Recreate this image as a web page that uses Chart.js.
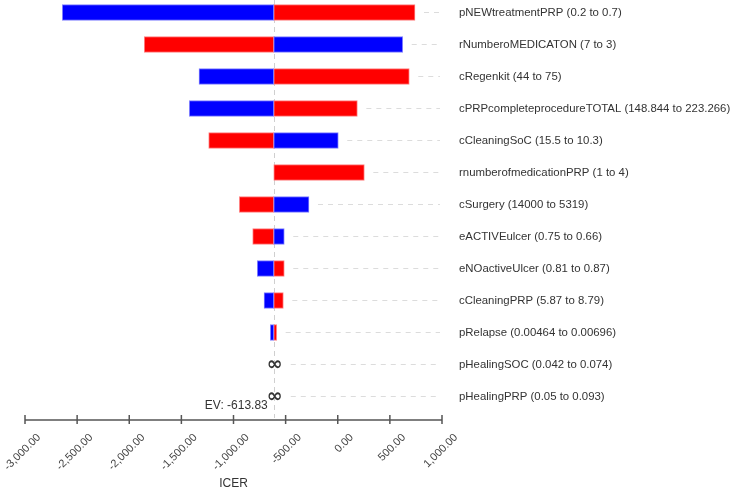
<!DOCTYPE html>
<html><head><meta charset="utf-8">
<script src="https://cdn.jsdelivr.net/npm/chart.js@4/dist/chart.umd.min.js"></script>
<style>html,body{margin:0;padding:0;background:#fff;}</style>
</head><body>
<canvas id="c" width="734" height="490"></canvas>
<script>
const categories = [
  "pNEWtreatmentPRP (0.2 to 0.7)",
  "rNumberoMEDICATON (7 to 3)",
  "cRegenkit (44 to 75)",
  "cPRPcompleteprocedureTOTAL (148.844 to 223.266)",
  "cCleaningSoC (15.5 to 10.3)",
  "rnumberofmedicationPRP (1 to 4)",
  "cSurgery (14000 to 5319)",
  "eACTIVEulcer (0.75 to 0.66)",
  "eNOactiveUlcer (0.81 to 0.87)",
  "cCleaningPRP (5.87 to 8.79)",
  "pRelapse (0.00464 to 0.00696)",
  "pHealingSOC (0.042 to 0.074)",
  "pHealingPRP (0.05 to 0.093)"
];
// blue bars
const blueValues = [-2642, 623, -1331, -1424, 5, null, -276, -513, -772, -707, -647, null, null];
// red bars
const redValues = [741, -1856, 686, 188, -1238, 255, -944, -816, -513, -522, -586, null, null];
const infiniteRows = [false, false, false, false, false, false, false, false, false, false, false, true, true];
const baseValue = -613.83;
const xMin = -3000, xMax = 1000, xStep = 500;
const axisTitle = "ICER";
const evLabel = "EV: -613.83";

const FONT = "'Liberation Sans', Arial, sans-serif";

const toData = arr => arr.map((v, i) => v == null ? null : {x: [baseValue, v], y: i}).filter(d => d);

const overlay = {
  id: 'overlay',
  beforeDatasetsDraw(chart) {
    const {ctx, chartArea, scales: {x, y}} = chart;
    const evX = Math.round(x.getPixelForValue(baseValue)) + 0.5;
    ctx.save();
    ctx.lineWidth = 1;
    ctx.strokeStyle = '#cfcfcf';
    ctx.setLineDash([5, 4]);
    ctx.beginPath(); ctx.moveTo(evX, chartArea.top); ctx.lineTo(evX, chartArea.bottom - 2); ctx.stroke();
    ctx.strokeStyle = '#dcdcdc';
    ctx.setLineDash([5, 5]);
    categories.forEach((c, i) => {
      const yy = Math.round(y.getPixelForValue(i)) + 0.5;
      let end = x.getPixelForValue(baseValue);
      [blueValues[i], redValues[i]].forEach(v => { if (v != null) end = Math.max(end, x.getPixelForValue(v)); });
      if (infiniteRows[i]) end += 8;
      ctx.beginPath(); ctx.moveTo(end + 9, yy); ctx.lineTo(chartArea.right - 2, yy); ctx.stroke();
    });
    ctx.restore();
  },
  afterDatasetsDraw(chart) {
    const {ctx, chartArea, scales: {x, y}} = chart;
    const evX = x.getPixelForValue(baseValue);
    ctx.save();
    ctx.fillStyle = '#333';
    ctx.font = "bold 19px 'DejaVu Sans', sans-serif";
    ctx.textAlign = 'center'; ctx.textBaseline = 'middle';
    categories.forEach((c, i) => {
      if (infiniteRows[i]) ctx.fillText('\u221e', evX + 1, y.getPixelForValue(i) + 1);
    });
    ctx.font = "12px " + FONT;
    ctx.textAlign = 'right';
    ctx.fillText(evLabel, evX - 6, y.getPixelForValue(categories.length - 1) + 9.5);
    // axis line and tick marks crossing it
    ctx.strokeStyle = '#555'; ctx.lineWidth = 1.5;
    ctx.beginPath(); ctx.moveTo(chartArea.left, chartArea.bottom); ctx.lineTo(chartArea.right, chartArea.bottom); ctx.stroke();
    x.ticks.forEach(t => {
      const px = x.getPixelForValue(t.value);
      ctx.beginPath(); ctx.moveTo(px, chartArea.bottom - 5); ctx.lineTo(px, chartArea.bottom + 4); ctx.stroke();
    });
    ctx.restore();
  }
};

new Chart(document.getElementById('c'), {
  type: 'bar',
  data: {
    datasets: [
      {data: toData(blueValues), backgroundColor: '#0000ff', borderColor: '#8080ff', borderWidth: 1, borderSkipped: false, barThickness: 16, grouped: false},
      {data: toData(redValues), backgroundColor: '#ff0000', borderColor: '#ff8080', borderWidth: 1, borderSkipped: false, barThickness: 16, grouped: false}
    ]
  },
  options: {
    indexAxis: 'y',
    responsive: false,
    animation: false,
    layout: {padding: {left: 25, top: 0, right: 0, bottom: 0}},
    plugins: {legend: {display: false}, tooltip: {enabled: false}},
    scales: {
      x: {
        type: 'linear', min: xMin, max: xMax,
        afterFit(s) { s.height = 70; s.paddingLeft = 0; s.paddingRight = 0; },
        grid: {drawOnChartArea: false, drawTicks: true, tickLength: 7, color: 'rgba(0,0,0,0)'},
        border: {display: false},
        ticks: {
          stepSize: xStep, minRotation: 45, maxRotation: 45, autoSkip: false,
          labelOffset: 14, padding: 4,
          color: '#444', font: {family: FONT, size: 11},
          callback: v => Number(v).toLocaleString('en-US', {minimumFractionDigits: 2, maximumFractionDigits: 2})
        },
        title: {display: true, text: axisTitle, color: '#333', font: {family: FONT, size: 12, lineHeight: 1}, padding: {top: 0, bottom: 0}}
      },
      y: {
        type: 'linear', position: 'right', reverse: true, min: -0.39, max: 12.735,
        offset: false,
        afterFit(s) { s.width = 292; s.paddingTop = 0; s.paddingBottom = 0; },
        afterBuildTicks(s) { s.ticks = categories.map((c, i) => ({value: i})); },
        grid: {display: false, offset: false},
        border: {display: false},
        ticks: {
          padding: 9, autoSkip: false, color: '#333', font: {family: FONT, size: 11.4},
          callback: v => categories[v]
        }
      }
    }
  },
  plugins: [overlay]
});
</script>
</body></html>
